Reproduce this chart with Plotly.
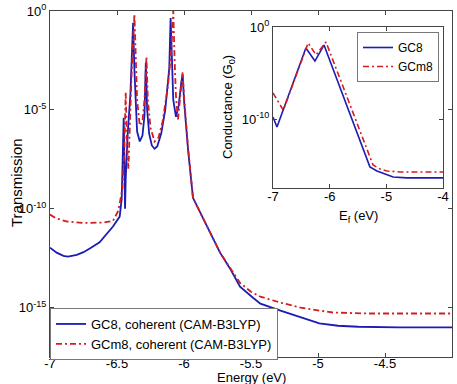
import plotly.graph_objects as go

# ---- main panel data (energy in eV, log10 transmission) ----
E_gc8 = [-7.00,-6.95,-6.90,-6.866,-6.80,-6.75,-6.70,-6.63,-6.53,-6.48,-6.465,-6.455,-6.45,-6.445,-6.44,-6.435,
         -6.42,-6.40,-6.39,-6.38,-6.37,-6.36,-6.35,-6.33,-6.31,-6.295,-6.285,-6.275,-6.26,-6.24,-6.22,-6.20,
         -6.17,-6.14,-6.12,-6.11,-6.10,-6.09,-6.08,-6.06,-6.04,-6.02,-6.01,-6.00,-5.98,-5.97,-5.933,-5.881,
         -5.806,-5.731,-5.65,-5.582,-5.485,-5.43,-5.28,-5.13,-4.99,-4.85,-4.70,-4.40,-4.00]
logT_gc8 = [-11.97,-12.22,-12.38,-12.42,-12.33,-12.2,-12.0,-11.7,-10.9,-10.4,-9.5,-7.5,-5.4,-7.5,-10.0,-8.5,
            -6.2,-4.2,-2.6,-0.6,-3.0,-5.0,-6.1,-6.6,-6.3,-5.3,-2.6,-5.0,-6.2,-6.8,-6.97,-6.85,
            -6.2,-5.0,-3.6,-2.9,-0.35,-2.5,-4.5,-5.35,-4.8,-3.6,-3.2,-4.5,-6.5,-7.0,-9.45,-10.15,
            -11.16,-12.22,-13.1,-13.94,-14.5,-14.8,-15.15,-15.5,-15.8,-15.92,-15.97,-16.0,-16.0]

E_gcm8 = [-7.00,-6.95,-6.87,-6.75,-6.60,-6.53,-6.49,-6.46,-6.445,-6.435,-6.425,-6.415,-6.405,-6.39,-6.37,-6.36,
          -6.35,-6.33,-6.31,-6.295,-6.28,-6.27,-6.25,-6.22,-6.19,-6.16,-6.12,-6.095,-6.08,-6.07,-6.06,-6.045,
          -6.03,-6.01,-6.00,-5.98,-5.97,-5.933,-5.881,-5.806,-5.731,-5.65,-5.582,-5.50,-5.43,-5.28,-5.13,-4.99,
          -4.89,-4.63,-4.00]
logT_gcm8 = [-10.3,-10.5,-10.65,-10.72,-10.7,-10.62,-10.1,-9.0,-7.0,-4.1,-6.8,-8.0,-6.0,-3.0,-0.15,-2.5,
             -4.5,-5.8,-5.6,-4.5,-2.3,-4.5,-5.9,-6.6,-6.4,-5.6,-3.8,-2.0,0.0,-2.5,-4.3,-5.5,
             -4.6,-3.1,-4.3,-6.3,-6.9,-9.45,-10.15,-11.16,-12.22,-13.05,-13.75,-14.2,-14.45,-14.75,-15.0,-15.15,
             -15.25,-15.3,-15.3]

# ---- inset data (Fermi energy in eV, log10 conductance) ----
Ef_gc8 = [-7.00,-6.93,-6.42,-6.26,-6.10,-5.29,-5.165,-4.88,-4.64,-4.00]
logG_gc8 = [-9.8,-10.87,-2.28,-3.7,-1.96,-15.2,-15.65,-16.3,-16.4,-16.4]
Ef_gcm8 = [-7.00,-6.818,-6.38,-6.24,-6.065,-5.235,-5.11,-4.99,-4.76,-4.00]
logG_gcm8 = [-7.17,-9.05,-1.74,-3.04,-1.63,-15.0,-15.43,-15.65,-15.76,-15.76]

x_ticks_main = [-7, -6.5, -6, -5.5, -5, -4.5, -4]
x_ticktext_main = ["-7", "-6.5", "-6", "-5.5", "-5", "-4.5", "-4"]
y_exp_main = [0, -5, -10, -15]
x_ticks_inset = [-7, -6, -5, -4]
y_exp_inset = [0, -10]

BLUE = "#1c1cb4"
RED = "#d21e1e"
FONT = "Liberation Sans, Arial, sans-serif"
W, H = 457, 384

fig = go.Figure()
fig.add_trace(go.Scatter(x=E_gc8, y=[10**v for v in logT_gc8], mode="lines",
                         line=dict(color=BLUE, width=1.8), name="GC8, coherent (CAM-B3LYP)",
                         xaxis="x", yaxis="y", legend="legend"))
fig.add_trace(go.Scatter(x=E_gcm8, y=[10**v for v in logT_gcm8], mode="lines",
                         line=dict(color=RED, width=1.8, dash="6px,3px,2px,3px"),
                         name="GCm8, coherent (CAM-B3LYP)", xaxis="x", yaxis="y", legend="legend"))
fig.add_trace(go.Scatter(x=Ef_gc8, y=[10**v for v in logG_gc8], mode="lines",
                         line=dict(color=BLUE, width=1.6), name="GC8",
                         xaxis="x2", yaxis="y2", legend="legend2"))
fig.add_trace(go.Scatter(x=Ef_gcm8, y=[10**v for v in logG_gcm8], mode="lines",
                         line=dict(color=RED, width=1.6, dash="6px,3px,2px,3px"), name="GCm8",
                         xaxis="x2", yaxis="y2", legend="legend2"))

def px(x):
    return x / W

def py(y):
    return 1 - y / H

axis_common = dict(showgrid=False, zeroline=False, mirror="ticks", showline=True,
                   linecolor="#444", linewidth=1, ticks="inside", ticklen=4, automargin=False,
                   tickcolor="#444", tickfont=dict(family=FONT, size=13, color="black"))

fig.update_layout(
    width=W, height=H,
    margin=dict(l=0, r=0, t=0, b=0, autoexpand=False),
    paper_bgcolor="white", plot_bgcolor="white",
    font=dict(family=FONT, size=13, color="black"),
    xaxis=dict(domain=[px(50), px(452)], range=[-7, -4], tickvals=x_ticks_main,
               ticktext=x_ticktext_main, anchor="y", ticklabelstandoff=-6, **axis_common),
    yaxis=dict(domain=[py(357), py(11)], type="log", range=[-17.5, 0],
               tickvals=[10**e for e in y_exp_main],
               ticktext=[f"10<sup>{e}</sup>" for e in y_exp_main], anchor="x", **axis_common),
    xaxis2=dict(domain=[px(273), px(443)], range=[-7, -4], tickvals=x_ticks_inset,
                ticktext=[str(v) for v in x_ticks_inset], anchor="y2", ticklabelstandoff=-4,
                **axis_common),
    yaxis2=dict(domain=[py(188), py(27)], type="log", range=[-17.5, 0],
                tickvals=[10**e for e in y_exp_inset],
                ticktext=[f"10<sup>{e}</sup>" for e in y_exp_inset], anchor="x2", **axis_common),
    legend=dict(x=px(50), y=py(308), xanchor="left", yanchor="top",
                bgcolor="white", bordercolor="#777", borderwidth=1,
                font=dict(family=FONT, size=13), tracegroupgap=0, itemwidth=30),
    legend2=dict(x=px(357), y=py(32), xanchor="left", yanchor="top",
                 bgcolor="white", bordercolor="#777", borderwidth=1,
                 font=dict(family=FONT, size=12), tracegroupgap=0, itemwidth=30),
    showlegend=True,
)

ann = dict(xref="paper", yref="paper", showarrow=False, xanchor="center", yanchor="middle")
fig.add_annotation(text="Transmission", x=px(16), y=py(183), textangle=-90,
                   font=dict(family=FONT, size=15), **ann)
fig.add_annotation(text="Energy (eV)", x=px(251), y=py(377.5), font=dict(family=FONT, size=13), **ann)
fig.add_annotation(text="Conductance (G<sub>0</sub>)", x=px(229), y=py(107), textangle=-90,
                   font=dict(family=FONT, size=13), **ann)
fig.add_annotation(text="E<sub>f</sub> (eV)", x=px(358), y=py(216), font=dict(family=FONT, size=13), **ann)

fig.write_html("out.html", config={"displayModeBar": False},
               post_script="document.body.style.margin='0px';document.body.style.overflow='hidden';")
